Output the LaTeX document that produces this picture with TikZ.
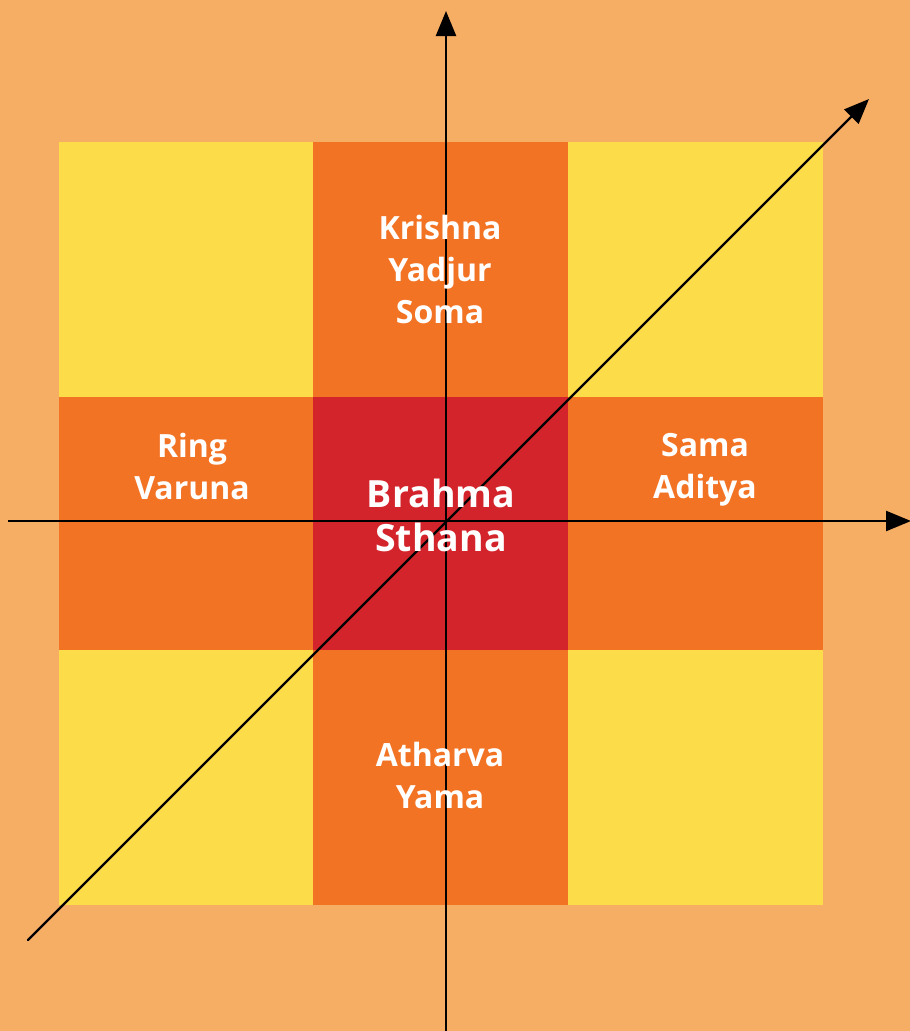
\documentclass[tikz,border=0pt]{standalone}
\usepackage{fontspec}
\setmainfont{Open Sans}
\usetikzlibrary{arrows.meta}
\definecolor{bgc}{HTML}{F6AD64}
\definecolor{yel}{HTML}{FDDC49}
\definecolor{org}{HTML}{F37324}
\definecolor{rd}{HTML}{D3242B}
\tikzset{
  axis/.style={line width=2.4pt, draw=black, -{Triangle[length=25pt,width=20pt]}},
  lbl/.style={text=white, font=\bfseries\fontsize{32}{42}\selectfont, align=center, inner sep=0pt},
  biglbl/.style={text=white, font=\bfseries\fontsize{37.5}{44}\selectfont, align=center, inner sep=0pt}
}
\begin{document}
\begin{tikzpicture}[x=1pt,y=-1pt]
\useasboundingbox (0,0) rectangle (910,1031);
\fill[bgc] (0,0) rectangle (910,1031);
% grid
\fill[yel] (59,142) rectangle (313,397);
\fill[org] (313,142) rectangle (568,397);
\fill[yel] (568,142) rectangle (823,397);
\fill[org] (59,397) rectangle (313,650);
\fill[rd] (313,397) rectangle (568,650);
\fill[org] (568,397) rectangle (823,650);
\fill[yel] (59,650) rectangle (313,905);
\fill[org] (313,650) rectangle (568,905);
\fill[yel] (568,650) rectangle (823,905);
% axis coordinates
\coordinate (xs) at (8,521);
\coordinate (xe) at (911,521);
\coordinate (ys) at (446,1031);
\coordinate (ye) at (446,11);
\coordinate (ds) at (28,940);
\coordinate (de) at (869,99);
\draw[axis] (xs) -- (xe);
\draw[axis] (ys) -- (ye);
\draw[axis, line cap=round] (ds) -- (de);
% labels
\node[lbl] (n) at (440,269) {Krishna\\Yadjur\\Soma};
\node[lbl] (w) at (192,466) {Ring\\Varuna};
\node[lbl] (e) at (705,470) {Sama\\Aditya};
\node[biglbl] (c) at (441,515) {Brahma\\Sthana};
\node[lbl] (s) at (440,775) {Atharva\\Yama};
\end{tikzpicture}
\end{document}
